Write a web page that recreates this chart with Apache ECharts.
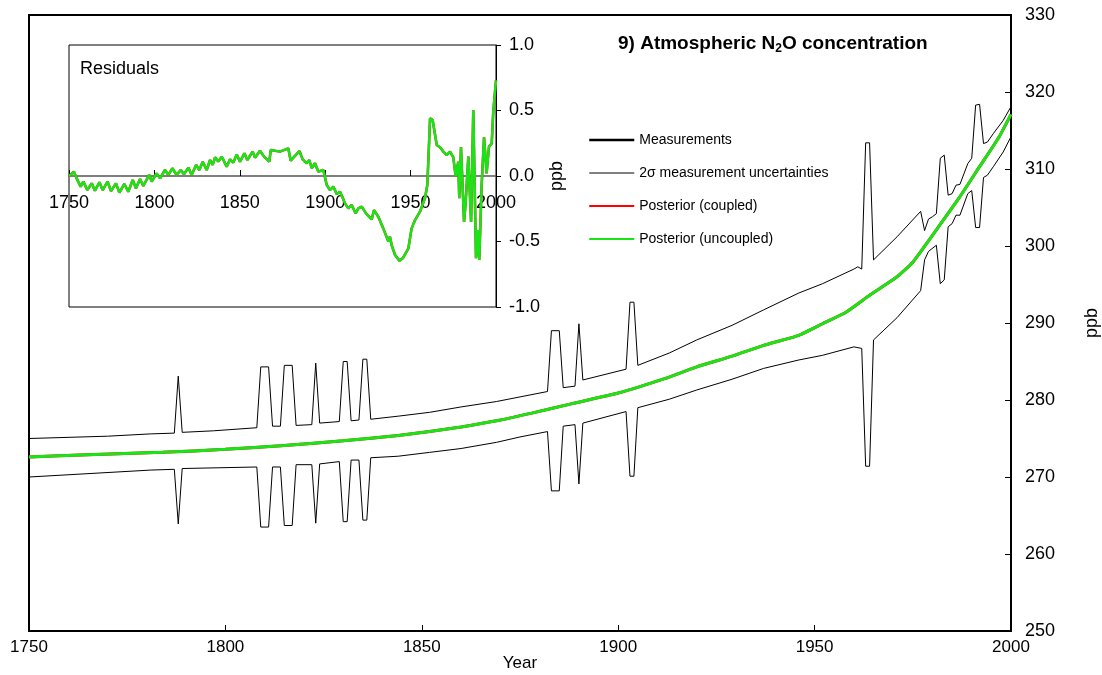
<!DOCTYPE html>
<html>
<head>
<meta charset="utf-8">
<title>Atmospheric N2O concentration</title>
<script src="https://cdn.jsdelivr.net/npm/echarts@6/dist/echarts.min.js"></script>
<style>
  html, body { margin: 0; padding: 0; background: #fff; }
  #chart { width: 1102px; height: 675px; }
</style>
</head>
<body>
<div id="chart"></div>
<script>
// Year range and axis ranges
const yearMin = 1750, yearMax = 2000, yearStep = 50;
const ppbMin = 250, ppbMax = 330, ppbStep = 10;
const residMin = -1, residMax = 1, residStep = 0.5;

// Upper edge of the 2-sigma measurement envelope (ppb)
const upperYears = [1750,1770,1781,1787,1788,1789,1797,1808,1809,1811,1812,1814,1815,1817,1818,1822,1823,1824,1829,1830,1831,1832,1834,1835,1836,1837,1844,1852,1860,1869,1875,1882,1883,1885,1886,1889,1890,1891,1902,1903,1904,1905,1913,1920,1929,1937,1946,1952,1960,1961,1962,1963,1964,1965,1971,1977,1978,1979,1980,1981,1982,1983,1984,1985,1986,1987,1989,1990,1991,1992,1993,1994,1995.5,1998,2000];
const upperPpb   = [275.0,275.3,275.6,275.7,283.1,275.8,276.0,276.4,284.3,284.3,276.6,276.6,284.5,284.5,276.7,276.8,284.8,277.0,277.2,285.0,285.0,277.3,277.4,285.3,285.3,277.5,277.9,278.4,279.1,279.8,280.4,281.1,289.0,289.0,281.6,281.8,289.9,282.6,284.0,292.7,292.7,284.5,286.1,287.8,289.7,291.7,293.9,295.1,297.0,297.3,297.0,313.4,313.4,298.2,301.2,304.5,302.0,303.5,303.8,304.2,311.4,311.8,306.6,306.8,307.9,308.0,310.7,311.4,318.3,318.4,313.3,313.5,314.6,316.3,318.1];

// Lower edge of the 2-sigma measurement envelope (ppb)
const lowerYears = [1750,1781,1787,1788,1789,1808,1809,1811,1812,1814,1815,1817,1818,1822,1823,1824,1829,1830,1831,1832,1834,1835,1836,1837,1844,1852,1860,1869,1875,1882,1883,1885,1886,1889,1890,1891,1902,1903,1904,1905,1913,1920,1929,1937,1946,1952,1960,1962,1963,1964,1965,1971,1977,1978,1979,1981,1982,1983,1984,1985,1986,1987,1989,1990,1991,1992,1993,1994,1995.5,1998,2000];
const lowerPpb   = [270.0,270.9,271.0,263.9,271.1,271.3,263.5,263.5,271.3,271.3,263.7,263.7,271.6,271.6,264.0,271.7,272.0,264.2,264.2,272.2,272.2,264.4,264.4,272.5,272.7,273.2,273.7,274.5,275.2,275.9,268.2,268.2,276.6,276.8,269.1,277.0,278.5,270.1,270.1,279.0,280.1,281.3,282.7,284.1,285.2,285.8,286.9,286.7,271.4,271.4,287.8,290.7,294.2,298.2,299.3,300.1,295.1,295.6,302.5,302.9,304.0,304.0,306.8,307.2,302.4,302.4,308.9,309.2,310.3,312.2,314.2];

// Posterior N2O concentration (coupled and uncoupled runs coincide at this scale)
const posteriorYears = [1750,1765,1784,1800,1815,1830,1844,1852,1860,1869,1878,1888,1900,1912,1920,1929,1937,1946,1952,1958,1964,1971,1975,1981,1987,1992,1997,2000];
const posteriorPpb   = [272.6,272.9,273.2,273.6,274.1,274.7,275.4,275.9,276.5,277.3,278.3,279.5,280.9,282.8,284.3,285.7,287.1,288.4,289.9,291.4,293.6,296.0,297.9,302.1,306.4,310.3,314.2,317.1];

// Residuals of the posterior against the measurements (ppb)
const residYears = [1750,1752.9,1754.5,1756.8,1758.4,1760.7,1763.3,1765.2,1767.8,1769.7,
  1772.6,1774.6,1777.5,1779.5,1782.4,1784.7,1787.3,1789.2,1791.6,1793.5,
  1797.0,1798.4,1801.3,1803.3,1806.2,1808.2,1810.5,1813.0,1815.4,1817.3,
  1819.9,1821.8,1824.4,1826.3,1828.3,1830.6,1832.6,1834.1,1835.5,1837.4,
  1839.4,1840.7,1842.3,1844.3,1846.2,1848.2,1850.1,1852.7,1854.4,1857.5,
  1858.9,1861.8,1864.2,1867.3,1868.1,1873.5,1878.4,1879.8,1884.9,1886.8,
  1889.2,1890.7,1892.1,1894.0,1896.0,1898.9,1900.9,1902.8,1904.8,1906.7,
  1908.7,1911.6,1913.5,1915.5,1917.8,1919.4,1921.4,1923.9,1927.2,1928.6,
  1931.1,1934.0,1937.0,1937.9,1938.9,1940.9,1943.4,1945.4,1948.7,1950.6,
  1952.6,1955.5,1958.4,1959.8,1961.4,1962.9,1965.3,1967.2,1969.2,1971.1,
  1973.1,1975.0,1976.4,1977.9,1978.5,1979.5,1981.3,1982.2,1983.8,1985.4,
  1986.7,1988.3,1989.3,1990.2,1991.6,1993.0,1994.5,1995.9,1997.5,1998.4,
  2000];
const residPpb = [0,0.033,-0.018,-0.081,-0.043,-0.107,-0.056,-0.112,-0.048,-0.107,
  -0.043,-0.115,-0.056,-0.127,-0.061,-0.120,-0.031,-0.094,-0.023,-0.076,
  0.008,-0.043,0.020,-0.018,0.046,0.008,0.059,0.008,0.046,0.013,
  0.064,0.008,0.084,0.046,0.109,0.046,0.122,0.084,0.143,0.110,
  0.148,0.115,0.071,0.127,0.102,0.165,0.109,0.173,0.122,0.186,
  0.140,0.193,0.148,0.109,0.198,0.186,0.211,0.117,0.191,0.127,
  0.097,0.122,0.059,0.097,0.033,0.046,-0.069,-0.107,-0.081,-0.137,
  -0.120,-0.209,-0.247,-0.221,-0.285,-0.247,-0.234,-0.285,-0.331,-0.260,
  -0.311,-0.400,-0.501,-0.463,-0.527,-0.603,-0.646,-0.628,-0.552,-0.400,
  -0.336,-0.272,-0.170,-0.069,0.440,0.427,0.237,0.219,0.186,0.160,
  0.186,0.142,-0.005,0.109,-0.170,0.219,-0.351,-0.209,0.148,-0.351,
  0.501,-0.628,-0.412,-0.641,-0.069,0.295,0.020,0.224,0.249,0.491,
  0.730];

const legendNames = ['Measurements', '2\u03c3 measurement uncertainties', 'Posterior (coupled)', 'Posterior (uncoupled)'];
const legendLineWidths = [2.5, 1, 2, 2];

const FONT = 'Liberation Sans, Arial, Helvetica, sans-serif';
const RED = '#ff0000';
const GREEN = '#16e516';

function pairs(xs, ys) { return xs.map((x, i) => [x, ys[i]]); }
const plainYear = v => String(v);

const chart = echarts.init(document.getElementById('chart'), null, { renderer: 'canvas' });

const option = {
  animation: false,
  backgroundColor: '#fff',
  textStyle: { fontFamily: FONT, color: '#000' },
  title: [
    {
      text: '9) Atmospheric N{sub|2}O concentration',
      left: 618, top: 33, padding: 0,
      textStyle: {
        fontFamily: FONT, fontSize: 19, fontWeight: 'bold', color: '#000',
        rich: { sub: { fontFamily: FONT, fontSize: 12, fontWeight: 'bold', color: '#000', padding: [10, 0, 0, 0] } }
      }
    },
    {
      text: 'Residuals',
      left: 80, top: 60, padding: 0,
      textStyle: { fontFamily: FONT, fontSize: 18, fontWeight: 'normal', color: '#000' }
    }
  ],
  legend: {
    data: legendNames.map((name, i) => ({ name, lineStyle: { width: legendLineWidths[i] } })),
    orient: 'vertical',
    left: 588, top: 133, padding: 0,
    itemWidth: 45, itemHeight: 14, itemGap: 19,
    selectedMode: false,
    itemStyle: { color: 'transparent', borderColor: 'transparent', borderWidth: 0, opacity: 0 },
    textStyle: { fontFamily: FONT, fontSize: 14, color: '#000' }
  },
  grid: [
    { left: 29, right: 91, top: 15, bottom: 44, outerBoundsMode: 'none', containLabel: false,
      show: true, borderColor: '#000', borderWidth: 2, backgroundColor: 'transparent' },
    { left: 69, top: 45, width: 427, height: 262, outerBoundsMode: 'none', containLabel: false,
      show: true, borderColor: '#000', borderWidth: 1, backgroundColor: '#fff' }
  ],
  xAxis: [
    {
      type: 'value', gridIndex: 0, min: yearMin, max: yearMax, interval: yearStep,
      name: 'Year', nameLocation: 'middle', nameGap: 24, nameMoveOverlap: false,
      nameTextStyle: { fontFamily: FONT, fontSize: 17, color: '#000' },
      axisLine: { show: true, onZero: false, lineStyle: { color: '#000', width: 2 } },
      axisTick: { show: true, inside: true, length: 6, lineStyle: { color: '#000', width: 1 } },
      axisLabel: { fontFamily: FONT, fontSize: 17, color: '#000', margin: 8, showMinLabel: true, showMaxLabel: true, formatter: plainYear },
      splitLine: { show: false }
    },
    {
      // residual year axis drawn along the zero line
      type: 'value', gridIndex: 1, min: yearMin, max: yearMax, interval: yearStep,
      position: 'bottom', offset: -131,
      axisLine: { show: true, onZero: false, lineStyle: { color: '#555', width: 1.5 } },
      axisTick: { show: true, inside: true, length: 6, lineStyle: { color: '#000', width: 1 } },
      axisLabel: { fontFamily: FONT, fontSize: 18, color: '#000', margin: 18, showMinLabel: true, showMaxLabel: true, formatter: plainYear },
      splitLine: { show: false }
    }
  ],
  yAxis: [
    {
      type: 'value', gridIndex: 0, position: 'right', min: ppbMin, max: ppbMax, interval: ppbStep,
      name: 'ppb', nameLocation: 'middle', nameGap: 72, nameRotate: 90, nameMoveOverlap: false,
      nameTextStyle: { fontFamily: FONT, fontSize: 18, color: '#000' },
      axisLine: { show: true, onZero: false, lineStyle: { color: '#000', width: 2 } },
      axisTick: { show: true, inside: true, length: 6, lineStyle: { color: '#000', width: 1 } },
      axisLabel: { fontFamily: FONT, fontSize: 18, color: '#000', margin: 14 },
      splitLine: { show: false }
    },
    {
      type: 'value', gridIndex: 1, position: 'right', min: residMin, max: residMax, interval: residStep,
      name: 'ppb', nameLocation: 'middle', nameGap: 52, nameRotate: 90, nameMoveOverlap: false,
      nameTextStyle: { fontFamily: FONT, fontSize: 18, color: '#000' },
      axisLine: { show: true, onZero: false, lineStyle: { color: '#000', width: 1 } },
      axisTick: { show: true, inside: false, length: 5, lineStyle: { color: '#000', width: 1 } },
      axisLabel: { fontFamily: FONT, fontSize: 18, color: '#000', margin: 13, formatter: v => v.toFixed(1) },
      splitLine: { show: false }
    }
  ],
  series: [
    {
      name: legendNames[0], type: 'line', xAxisIndex: 0, yAxisIndex: 0, data: [],
      symbol: 'none', color: '#000', lineStyle: { color: '#000', width: 2.5 }
    },
    {
      name: legendNames[1], type: 'line', xAxisIndex: 0, yAxisIndex: 0,
      data: pairs(upperYears, upperPpb),
      symbol: 'none', color: '#000', lineStyle: { color: '#000', width: 1 }
    },
    {
      name: legendNames[1], type: 'line', xAxisIndex: 0, yAxisIndex: 0,
      data: pairs(lowerYears, lowerPpb),
      symbol: 'none', color: '#000', lineStyle: { color: '#000', width: 1 }
    },
    {
      name: legendNames[2], type: 'line', xAxisIndex: 0, yAxisIndex: 0,
      data: pairs(posteriorYears, posteriorPpb), smooth: 0.15,
      symbol: 'none', color: RED, lineStyle: { color: RED, width: 3 }
    },
    {
      name: legendNames[3], type: 'line', xAxisIndex: 0, yAxisIndex: 0,
      data: pairs(posteriorYears, posteriorPpb), smooth: 0.15,
      symbol: 'none', color: GREEN, lineStyle: { color: GREEN, width: 3 }
    },
    {
      name: legendNames[2], type: 'line', xAxisIndex: 1, yAxisIndex: 1,
      data: pairs(residYears, residPpb),
      symbol: 'none', color: RED, lineStyle: { color: RED, width: 2.5 }
    },
    {
      name: legendNames[3], type: 'line', xAxisIndex: 1, yAxisIndex: 1,
      data: pairs(residYears, residPpb),
      symbol: 'none', color: GREEN, lineStyle: { color: GREEN, width: 2.5 }
    }
  ]
};

chart.setOption(option);
</script>
</body>
</html>
